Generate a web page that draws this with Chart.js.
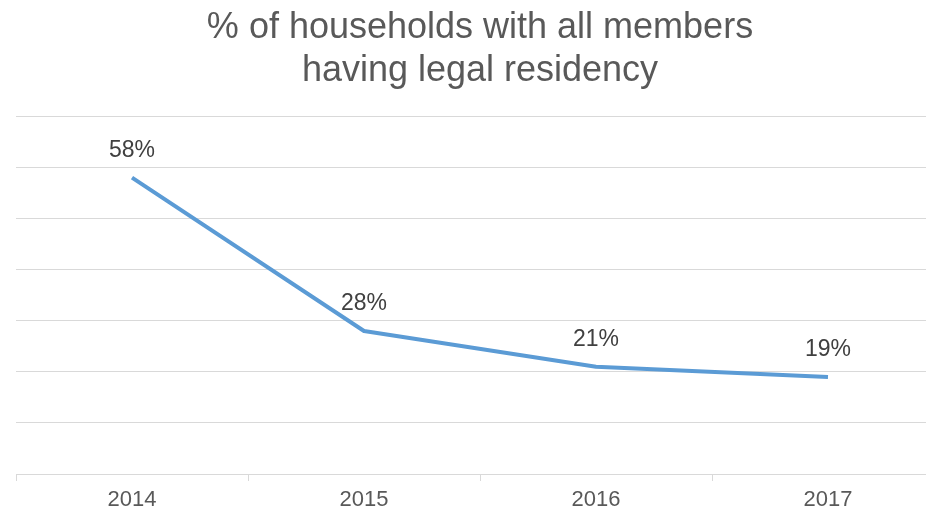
<!DOCTYPE html>
<html>
<head>
<meta charset="utf-8">
<script src="https://cdn.jsdelivr.net/npm/chart.js@4"></script>
<style>
  html, body { margin: 0; padding: 0; background: #fff; overflow: hidden; }
  /* el área del gráfico sigue un poco más allá del borde derecho */
  #wrap { width: 944px; height: 513px; }
</style>
</head>
<body>
<div id="wrap"><canvas id="chart"></canvas></div>
<script>
// datos
const years = ['2014', '2015', '2016', '2017'];
const legalShare = [58, 28, 21, 19];
const titleLines = ['% of households with all members', 'having legal residency'];

// etiquetas de valor encima de cada punto
const valueLabels = {
  id: 'valueLabels',
  afterDatasetsDraw(chart) {
    const ctx = chart.ctx;
    const meta = chart.getDatasetMeta(0);
    ctx.save();
    ctx.font = '23px "Liberation Sans", Arial, sans-serif';
    ctx.fillStyle = '#404040';
    ctx.textAlign = 'center';
    ctx.textBaseline = 'alphabetic';
    meta.data.forEach((pt, i) => {
      ctx.fillText(legalShare[i] + '%', pt.x, pt.y - 21);
    });
    ctx.restore();
  }
};

new Chart(document.getElementById('chart'), {
  type: 'line',
  data: {
    labels: years,
    datasets: [{
      data: legalShare,
      borderColor: '#5B9BD5',
      borderWidth: 4,
      borderJoinStyle: 'round',
      tension: 0,
      pointRadius: 0,
      fill: false
    }]
  },
  options: {
    responsive: true,
    maintainAspectRatio: false,
    animation: false,
    layout: { padding: { left: 16, right: 0, top: 0, bottom: 0 } },
    plugins: {
      legend: { display: false },
      tooltip: { enabled: false },
      title: {
        display: true,
        text: titleLines,
        color: '#595959',
        font: { family: '"Liberation Sans", Arial, sans-serif', size: 36, weight: 'normal', lineHeight: 1.2 },
        padding: { top: 6, bottom: 24 }
      }
    },
    scales: {
      x: {
        offset: true,
        grid: {
          offset: true,
          drawOnChartArea: false,
          drawTicks: true,
          tickLength: 7,
          color: '#d9d9d9'
        },
        border: { display: true, color: '#d9d9d9', width: 1 },
        ticks: {
          color: '#595959',
          padding: 6,
          font: { family: '"Liberation Sans", Arial, sans-serif', size: 22 }
        },
        afterFit(scale) { scale.height = 39; }
      },
      y: {
        min: 0,
        max: 70,
        ticks: { display: false, stepSize: 10 },
        grid: { color: '#d9d9d9', lineWidth: 1, drawTicks: false },
        border: { display: false }
      }
    }
  },
  plugins: [valueLabels]
});
</script>
</body>
</html>
